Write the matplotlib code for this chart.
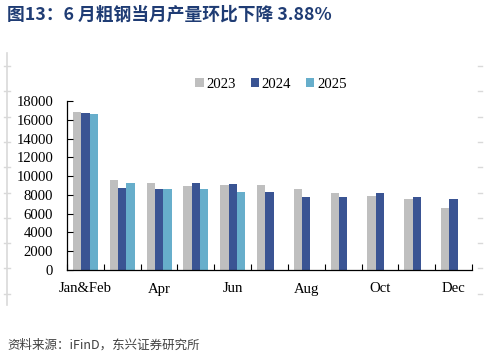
import numpy as np
import matplotlib.pyplot as plt
from matplotlib.lines import Line2D

plt.rcParams['font.family'] = ['Liberation Serif', 'DejaVu Serif']

months = ['Jan&Feb', 'Mar', 'Apr', 'May', 'Jun', 'Jul', 'Aug', 'Sep', 'Oct', 'Nov', 'Dec']
y2023 = [16807, 9573, 9264, 8950, 9050, 9050, 8600, 8165, 7880, 7530, 6640]
y2024 = [16700, 8780, 8594, 9270, 9160, 8300, 7740, 7740, 8170, 7810, 7530]
y2025 = [16600, 9270, 8600, 8600, 8310]
shown_labels = ['Jan&Feb', '', 'Apr', '', 'Jun', '', 'Aug', '', 'Oct', '', 'Dec']

c2023 = '#BFBFBF'
c2024 = '#3A5493'
c2025 = '#67AECB'
title_color = '#1F3C74'

fig = plt.figure(figsize=(4.88, 3.57), dpi=100)
ax = fig.add_axes([67/488, 1-270/357, (472-67)/488, (270-101)/357])

x = np.arange(len(months))
w = 0.227
ax.bar(x - w, y2023, w, color=c2023, label='2023')
ax.bar(x, y2024, w, color=c2024, label='2024')
ax.bar(np.arange(len(y2025)) + w, y2025, w, color=c2025, label='2025')

ax.set_xlim(-0.5, len(months) - 0.5)
ax.set_ylim(0, 18000)
ax.set_yticks(np.arange(0, 18001, 2000))
ax.tick_params(axis='y', direction='in', length=4, width=0.8, labelsize=10.6, pad=10)
ax.set_xticks(np.arange(-0.5, len(months), 1))
ax.set_xticklabels([])
ax.tick_params(axis='x', direction='in', length=4, width=0.8)
ax.set_xticks(x, minor=True)
ax.set_xticklabels(shown_labels, minor=True, fontsize=10.6)
ax.tick_params(axis='x', which='minor', length=0, pad=9)
for s in ['top', 'right']:
    ax.spines[s].set_visible(False)
for s in ['left', 'bottom']:
    ax.spines[s].set_linewidth(0.9)

ax.legend(loc='center', bbox_to_anchor=(271/488, 1-84/357), bbox_transform=fig.transFigure,
          ncol=3, frameon=False, fontsize=10.6, handlelength=0.55, handleheight=0.55,
          handletextpad=0.2, columnspacing=1.0)

fig.text(7/488, 1-15/357, '图13：6 月粗钢当月产量环比下降 3.88%', fontsize=12.8, fontweight='bold',
         color=title_color, va='center', ha='left', family=['Noto Sans CJK SC', 'DejaVu Sans'])
fig.text(7/488, 1-345/357, '资料来源：iFinD，东兴证券研究所', fontsize=9, style='italic',
         color='#404040', va='center', ha='left', family=['Noto Sans CJK SC', 'DejaVu Sans'])

# faint frame marks left over from the source layout
gray = '#D9D9D9'
fig.add_artist(Line2D([7/488, 7/488], [1-53/357, 1-305/357], color=gray, lw=1.2))
for yy in np.arange(66, 300, 25.3):
    fig.add_artist(Line2D([4/488, 10/488], [1-yy/357, 1-yy/357], color=gray, lw=1))
    fig.add_artist(Line2D([478/488, 482/488], [1-yy/357, 1-yy/357], color=gray, lw=1))

fig.savefig('out.png', dpi=100)
